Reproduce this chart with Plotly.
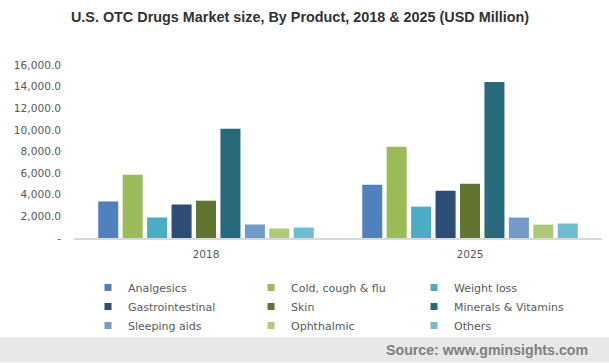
import plotly.graph_objects as go

years = ["2018", "2025"]
products = ["Analgesics", "Cold, cough & flu", "Weight loss", "Gastrointestinal", "Skin",
            "Minerals & Vitamins", "Sleeping aids", "Ophthalmic", "Others"]
values_2018 = [3380, 5850, 1900, 3100, 3450, 10100, 1250, 880, 970]
values_2025 = [4930, 8430, 2900, 4380, 5020, 14420, 1890, 1240, 1340]
colors = ["#4f81bd", "#9bbb59", "#4bacc6", "#2c4d75", "#5f7530",
          "#276a7c", "#729aca", "#afc97a", "#6fbdd1"]
tick_vals = [0, 2000, 4000, 6000, 8000, 10000, 12000, 14000, 16000]
tick_text = ["-", "2,000.0", "4,000.0", "6,000.0", "8,000.0", "10,000.0",
             "12,000.0", "14,000.0", "16,000.0"]

W, H = 609, 363
ML, MR, MT, MB = 74, 7, 65, 124.5

fig = go.Figure()
for i, p in enumerate(products):
    fig.add_trace(go.Bar(x=years, y=[values_2018[i], values_2025[i]], name=p,
                         showlegend=False,
                         marker=dict(color=colors[i], line=dict(width=0))))
for i, p in enumerate(products):
    fig.add_trace(go.Scatter(x=[None], y=[None], name=p, mode="markers",
                             marker=dict(symbol="square", size=7, color=colors[i])))

ph = H - MT - MB
pw = W - ML - MR
fig.add_shape(type="rect", xref="paper", yref="paper",
              x0=-ML / pw, x1=(W - ML) / pw,
              y0=-(338 - (H - MB)) / ph, y1=-(H - (H - MB)) / ph,
              fillcolor="#e8e8e8", line=dict(width=0), layer="below")
fig.add_annotation(xref="paper", yref="paper", x=(590 - ML) / pw,
                   y=-(350.5 - (H - MB)) / ph, xanchor="right", yanchor="middle",
                   text="<b>Source: www.gminsights.com</b>", showarrow=False,
                   font=dict(family="Liberation Sans, Arial", size=14.2, color="#7f7f7f"))

tick_font = dict(family="DejaVu Sans, Verdana", size=10.6, color="#595959")
fig.update_layout(
    width=W, height=H,
    margin=dict(l=ML, r=MR, t=MT, b=MB, pad=0, autoexpand=False),
    paper_bgcolor="white", plot_bgcolor="white",
    barmode="group", bargap=0.167, bargroupgap=0.18,
    title=dict(text="<b>U.S. OTC Drugs Market size, By Product, 2018 & 2025 (USD Million)</b>",
               x=300 / W, xref="container", xanchor="center", y=1 - 17 / H, yanchor="middle",
               font=dict(family="Liberation Sans, Arial", size=14.4, color="#333333")),
    xaxis=dict(showgrid=False, showline=True, linecolor="#d9d9d9", linewidth=2,
               ticks="", ticklabelstandoff=5, tickfont=tick_font),
    yaxis=dict(range=[0, 16000], tickvals=tick_vals, ticktext=tick_text, showgrid=False,
               showline=False, zeroline=False, ticks="", ticklabelstandoff=12,
               tickfont=tick_font),
    legend=dict(orientation="h", xref="container", yref="container",
                x=88 / W, y=1 - 273 / H, xanchor="left", yanchor="top",
                entrywidth=118, entrywidthmode="pixels", itemwidth=30,
                font=dict(family="DejaVu Sans, Verdana", size=11, color="#595959"),
                traceorder="normal", bgcolor="rgba(0,0,0,0)"),
)

fig.write_html("out.html", config={"displayModeBar": False},
               post_script="document.body.style.margin='0';")
